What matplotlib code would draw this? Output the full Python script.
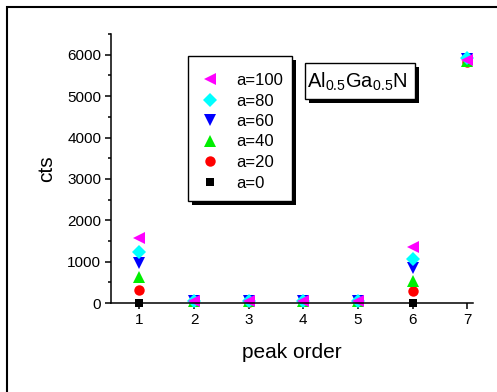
import matplotlib
matplotlib.use("Agg")
import matplotlib.pyplot as plt
import matplotlib.patheffects as pe
from matplotlib.patches import Rectangle

plt.rcParams['font.family'] = ['Liberation Sans', 'DejaVu Sans']
plt.rcParams['mathtext.default'] = 'regular'

# ==========================================================
# DATA
# ==========================================================
peak_order = [1, 2, 3, 4, 5, 6, 7]

a0 = [0, 30, 30, 30, 30, 0, 5850]
a20 = [322, 40, 35, 40, 40, 283, 5818]
a40 = [620, 45, 40, 45, 45, 533, 5850]
a60 = [970, 50, 45, 50, 50, 856, 5900]
a80 = [1236, 55, 50, 55, 55, 1075, 5932]
a100 = [1583, 60, 50, 60, 60, 1366, 5867]

labels = ["a=0", "a=20", "a=40", "a=60", "a=80", "a=100"]

# ==========================================================
# STYLES
# ==========================================================
series = [a0, a20, a40, a60, a80, a100]
markers = ["s", "o", "^", "v", "D", "<"]
colors = ["black", "red", "#00ee00", "blue", "cyan", "magenta"]
msizes = [6, 7.5, 8.5, 8.5, 7, 9]

W, H = 497, 392
shadow = [pe.SimplePatchShadow(offset=(3, -3), shadow_rgbFace="black", alpha=1),
          pe.Normal()]


def box(x0, y0, x1, y1):
    # pixel box (top-left origin) -> figure rectangle with black shadow
    r = Rectangle((x0 / W, 1 - y1 / H), (x1 - x0) / W, (y1 - y0) / H,
                  transform=fig.transFigure, facecolor="white",
                  edgecolor="black", linewidth=1.0, zorder=5)
    r.set_path_effects(shadow)
    fig.patches.append(r)


fig = plt.figure(figsize=(4.97, 3.92), dpi=100)
ax = fig.add_axes([0.2233, 0.227, 0.728, 0.686])

handles = []
for ys, m, c, ms, lab in zip(series, markers, colors, msizes, labels):
    h, = ax.plot(peak_order, ys, linestyle="none", marker=m, color=c,
                 markersize=ms, markeredgewidth=0, label=lab, clip_on=False)
    handles.append(h)

ax.set_xlim(0.48, 7.1)
ax.set_ylim(0, 6500)
ax.set_xticks(peak_order)
ax.set_yticks(range(0, 7000, 1000))
ax.set_yticks(range(500, 7000, 1000), minor=True)

ax.spines["top"].set_visible(False)
ax.spines["right"].set_visible(False)
ax.spines["left"].set_linewidth(1.1)
ax.spines["bottom"].set_linewidth(1.1)
ax.tick_params(which="major", direction="out", length=4, width=1.1,
               labelsize=11, pad=3)
ax.tick_params(which="minor", direction="out", length=2.5, width=1.1)

ax.set_xlabel("peak order", fontsize=15, labelpad=12)
ax.set_ylabel("cts", fontsize=15, labelpad=8)

# ==========================================================
# LEGEND
# ==========================================================
box(188, 56, 292, 201)
leg = fig.legend(handles[::-1], labels[::-1], loc="upper left",
                 bbox_to_anchor=(200 / W, 1 - 73 / H),
                 borderaxespad=0, borderpad=0, fontsize=12,
                 labelspacing=0.33, handlelength=1.2, handletextpad=1.0,
                 frameon=False, numpoints=1)
leg.set_zorder(6)

# ==========================================================
# COMPOSITION LABEL
# ==========================================================
box(305, 63, 415, 99)
fig.text(307 / W, 1 - 82 / H, r"Al$_{0.5}$Ga$_{0.5}$N", fontsize=14.5,
         ha="left", va="center", zorder=6)

# outer frame
fig.patches.append(Rectangle((7 / W, -0.1), 1.2, 1.1 - 7 / H,
                             transform=fig.transFigure, fill=False,
                             edgecolor="black", linewidth=1.5))

plt.savefig("out.png", dpi=100)
